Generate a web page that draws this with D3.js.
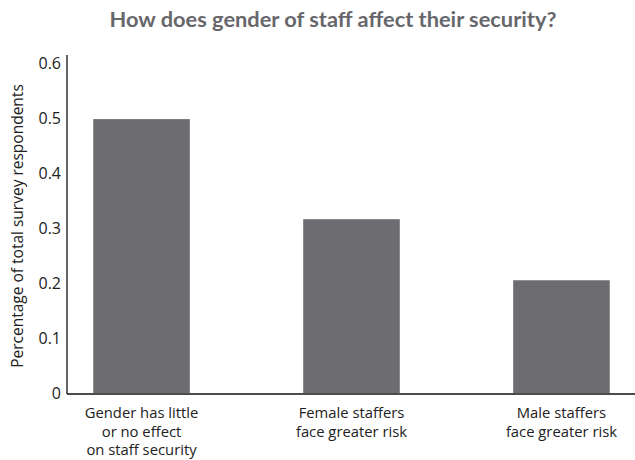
<!DOCTYPE html>
<html>
<head>
<meta charset="utf-8">
<script src="https://cdn.jsdelivr.net/npm/d3@7"></script>
<style>
  html, body { margin: 0; padding: 0; background: #fff; }
  svg { display: block; }
</style>
</head>
<body>
<svg id="chart" width="635" height="460"></svg>
<script>
const title = "How does gender of staff affect their security?";
const yAxisLabel = "Percentage of total survey respondents";
const categories = [
  ["Gender has little", "or no effect", "on staff security"],
  ["Female staffers", "face greater risk"],
  ["Male staffers", "face greater risk"]
];
const values = [0.498, 0.316, 0.205];
const yTicks = [0, 0.1, 0.2, 0.3, 0.4, 0.5, 0.6];

(function () {
const svg = d3.select("#chart");
const W = 635, H = 460;
const mLeft = 67, mRight = 636, mTop = 55, mBottom = 394;

const x = d3.scaleBand()
  .domain(d3.range(categories.length))
  .range([mLeft, mRight])
  .paddingInner(0.54)
  .paddingOuter(0.125);

const y = d3.scaleLinear().domain([0, 0.6]).range([393, 63]);

svg.append("text")
  .attr("x", 333).attr("y", 27)
  .attr("text-anchor", "middle")
  .attr("font-family", "Lato, 'Open Sans', sans-serif")
  .attr("font-weight", "bold")
  .attr("font-size", 21.8)
  .attr("fill", "#67676b")
  .text(title);

svg.append("g").selectAll("rect")
  .data(values)
  .join("rect")
  .attr("x", (d, i) => x(i))
  .attr("width", x.bandwidth())
  .attr("y", d => y(d))
  .attr("height", d => y(0) - y(d))
  .attr("fill", "#6d6d71");

const yAxis = svg.append("g")
  .attr("transform", `translate(${mLeft},0)`)
  .call(d3.axisLeft(y).tickValues(yTicks).tickSize(0).tickPadding(6)
    .tickFormat(d => d === 0 ? "0" : d3.format(".1f")(d)));
yAxis.select(".domain").remove();
yAxis.selectAll("text")
  .attr("font-family", "'Open Sans', Lato, sans-serif")
  .attr("font-size", 16)
  .attr("fill", "#222");

svg.append("line")
  .attr("x1", mLeft).attr("x2", mLeft)
  .attr("y1", mTop).attr("y2", mBottom)
  .attr("stroke", "#111").attr("stroke-width", 1.3);
svg.append("line")
  .attr("x1", mLeft).attr("x2", W)
  .attr("y1", mBottom).attr("y2", mBottom)
  .attr("stroke", "#111").attr("stroke-width", 1.3);

const xl = svg.append("g").selectAll("text")
  .data(categories)
  .join("text")
  .attr("x", (d, i) => x(i) + x.bandwidth() / 2)
  .attr("y", 418)
  .attr("text-anchor", "middle")
  .attr("font-family", "'Open Sans', Lato, sans-serif")
  .attr("font-size", 14.8)
  .attr("fill", "#222");
xl.selectAll("tspan")
  .data(d => d)
  .join("tspan")
  .attr("x", function() { return d3.select(this.parentNode).attr("x"); })
  .attr("dy", (d, i) => i === 0 ? 0 : 18.5)
  .text(d => d);

svg.append("text")
  .attr("transform", "translate(23,226) rotate(-90)")
  .attr("text-anchor", "middle")
  .attr("font-family", "'Open Sans', Lato, sans-serif")
  .attr("font-size", 15.5)
  .attr("fill", "#222")
  .text(yAxisLabel);
})();
</script>
</body>
</html>
